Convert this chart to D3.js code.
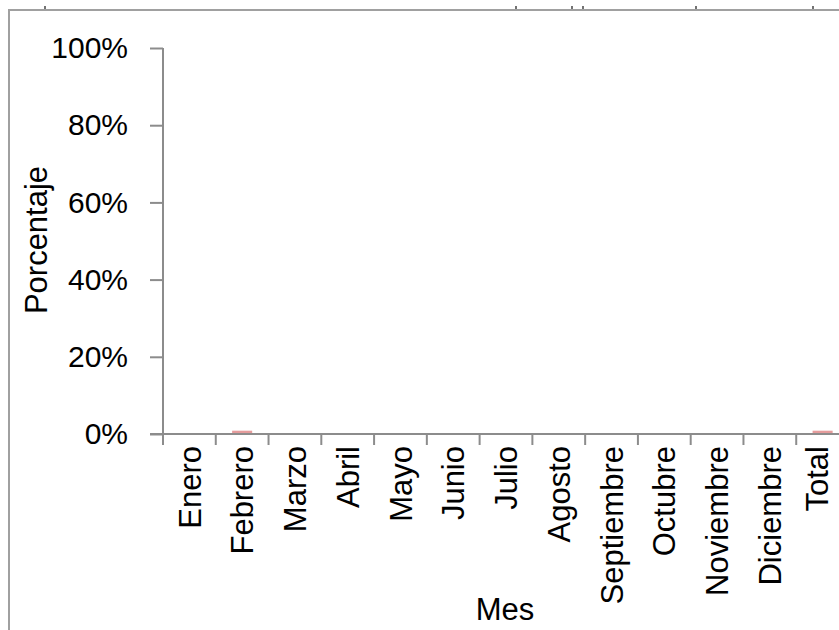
<!DOCTYPE html>
<html>
<head>
<meta charset="utf-8">
<script src="https://cdn.jsdelivr.net/npm/d3@7"></script>
<style>
  body { margin: 0; background: #fff; }
  text { font-family: "Liberation Sans", Arial, sans-serif; fill: #000; }
</style>
</head>
<body>
<svg id="chart" width="839" height="630"></svg>
<script>
"use strict";
// categories and values
const meses = ["Enero", "Febrero", "Marzo", "Abril", "Mayo", "Junio", "Julio",
    "Agosto", "Septiembre", "Octubre", "Noviembre", "Diciembre", "Total"];
const porcentajes = [0, 0.006, 0, 0, 0, 0, 0, 0, 0, 0, 0, 0, 0.006];
const yTicks = [0, 0.2, 0.4, 0.6, 0.8, 1];
// small marks left over from the chart above, on the frame edge
const topMarks = [45, 516, 572, 583, 696, 813];

const svg = d3.select("#chart");
const axisColor = "#8c8c8c";

// outer frame (cut by the page edges)
svg.append("path")
    .attr("d", "M9,640 L9,10 L850,10")
    .attr("fill", "none")
    .attr("stroke", "#a0a0a0")
    .attr("stroke-width", 2);
svg.selectAll("line.mark").data(topMarks).enter().append("line")
    .attr("class", "mark")
    .attr("x1", d => d).attr("x2", d => d)
    .attr("y1", 6).attr("y2", 9)
    .attr("stroke", "#444").attr("stroke-width", 1.5);

const x = d3.scaleBand().domain(meses).range([163, 849]).padding(0);
const y = d3.scaleLinear().domain([0, 1]).range([434, 48]);

// bars
const barW = x.bandwidth() * 0.38;
svg.selectAll("rect.bar").data(meses).enter().append("rect")
    .attr("class", "bar")
    .attr("x", d => x(d) + (x.bandwidth() - barW) / 2)
    .attr("y", (d, i) => y(porcentajes[i]) - 1)
    .attr("width", barW)
    .attr("height", (d, i) => y(0) - y(porcentajes[i]))
    .attr("fill", "#e59c9c");

// y axis
const yAxis = svg.append("g")
    .attr("transform", "translate(163,0)")
    .call(d3.axisLeft(y).tickValues(yTicks).tickFormat(d3.format(".0%"))
        .tickSize(13).tickPadding(22));
yAxis.select(".domain").attr("stroke", axisColor).attr("stroke-width", 2)
    .attr("d", "M0," + y(1) + "V" + y(0));
yAxis.selectAll(".tick line").attr("stroke", axisColor).attr("stroke-width", 2);
yAxis.selectAll(".tick text").attr("font-size", 30)
    .style("font-family", "'Liberation Sans', Arial, sans-serif");

// x axis: labels at band centres, ticks at band edges
const xAxis = svg.append("g")
    .attr("transform", "translate(0,434)")
    .call(d3.axisBottom(x).tickSize(0).tickPadding(0));
xAxis.select(".domain").attr("stroke", axisColor).attr("stroke-width", 2)
    .attr("d", "M150,0H849");
xAxis.selectAll(".tick text")
    .attr("font-size", 31)
    .style("font-family", "'Liberation Sans', Arial, sans-serif")
    .attr("text-anchor", "end")
    .attr("transform", "rotate(-90)")
    .attr("x", -12)
    .attr("y", d => d === "Total" ? -6 : 0)
    .attr("dy", "0.36em");
xAxis.selectAll("line.edge").data(meses).enter().append("line")
    .attr("class", "edge")
    .attr("x1", d => x(d)).attr("x2", d => x(d))
    .attr("y1", 0).attr("y2", 11)
    .attr("stroke", axisColor).attr("stroke-width", 2);

// axis titles
svg.append("text")
    .attr("transform", "translate(47,240) rotate(-90)")
    .attr("text-anchor", "middle")
    .attr("font-size", 31)
    .text("Porcentaje");
svg.append("text")
    .attr("x", 505).attr("y", 620)
    .attr("text-anchor", "middle")
    .attr("font-size", 31)
    .text("Mes");
</script>
</body>
</html>
